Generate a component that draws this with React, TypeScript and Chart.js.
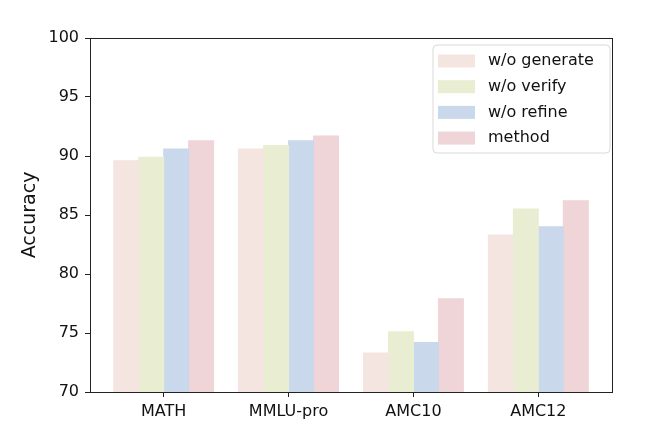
import React, { useEffect, useRef } from "react";
import { Chart, registerables } from "chart.js";

Chart.register(...registerables);

const categories = ["MATH", "MMLU-pro", "AMC10", "AMC12"];
const seriesLabels = ["w/o generate", "w/o verify", "w/o refine", "method"];
const woGenerate = [89.6, 90.6, 73.3, 83.3];
const woVerify = [89.9, 90.9, 75.1, 85.5];
const woRefine = [90.6, 91.3, 74.2, 84.0];
const methodVals = [91.3, 91.7, 77.9, 86.2];
const seriesColors = ["#f4e5e0", "#e9eed2", "#c9d8eb", "#efd4d8"];
const yTicks = [70, 75, 80, 85, 90, 95, 100];

const FONT = "'DejaVu Sans', sans-serif";

const framePlugin = {
  id: "frame",
  afterDatasetsDraw(chart: any) {
    const { ctx, chartArea } = chart;
    ctx.save();
    ctx.strokeStyle = "#222";
    ctx.lineWidth = 1;
    ctx.strokeRect(
      Math.round(chartArea.left) + 0.5,
      Math.round(chartArea.top) + 0.5,
      Math.round(chartArea.right - chartArea.left),
      Math.round(chartArea.bottom - chartArea.top)
    );
    ctx.restore();
  },
  afterDraw(chart: any) {
    const { ctx, chartArea } = chart;
    const w = 177;
    const h = 108;
    const x = chartArea.right - 2 - w;
    const y = chartArea.top + 7;
    ctx.save();
    ctx.beginPath();
    const r = 4;
    ctx.moveTo(x + r, y);
    ctx.lineTo(x + w - r, y);
    ctx.arcTo(x + w, y, x + w, y + r, r);
    ctx.lineTo(x + w, y + h - r);
    ctx.arcTo(x + w, y + h, x + w - r, y + h, r);
    ctx.lineTo(x + r, y + h);
    ctx.arcTo(x, y + h, x, y + h - r, r);
    ctx.lineTo(x, y + r);
    ctx.arcTo(x, y, x + r, y, r);
    ctx.closePath();
    ctx.fillStyle = "rgba(255,255,255,0.8)";
    ctx.fill();
    ctx.strokeStyle = "#d9d9d9";
    ctx.lineWidth = 1;
    ctx.stroke();
    ctx.font = `16px ${FONT}`;
    ctx.textBaseline = "middle";
    ctx.textAlign = "left";
    chart.data.datasets.forEach((ds: any, i: number) => {
      const cy = y + 16 + i * 25.7;
      ctx.fillStyle = ds.backgroundColor;
      ctx.fillRect(x + 5, cy - 6.5, 37, 13);
      ctx.fillStyle = "#111";
      ctx.fillText(ds.label, x + 55, cy);
    });
    ctx.restore();
  },
};

export default function App() {
  const ref = useRef<HTMLCanvasElement>(null);
  useEffect(() => {
    if (!ref.current) return;
    const allSeries = [woGenerate, woVerify, woRefine, methodVals];
    const chart = new Chart(ref.current, {
      type: "bar",
      data: {
        datasets: allSeries.map((vals, si) => ({
          label: seriesLabels[si],
          data: vals.map((v, i) => ({ x: i, y: v })),
          backgroundColor: seriesColors[si],
          borderWidth: 0,
          inflateAmount: 0.5,
          barPercentage: 1,
          categoryPercentage: 0.8,
        })),
      },
      options: {
        animation: false,
        responsive: true,
        maintainAspectRatio: false,
        layout: { padding: { left: 18, top: 38, right: 48, bottom: 0 } },
        plugins: {
          legend: { display: false },
          tooltip: { enabled: false },
        },
        scales: {
          x: {
            type: "linear",
            min: -0.59,
            max: 3.59,
            offset: false,
            afterBuildTicks: (axis: any) => {
              axis.ticks = categories.map((_, i) => ({ value: i }));
            },
            afterFit: (axis: any) => {
              axis.height = 50;
            },
            ticks: {
              callback: (v: any) => categories[v as number] ?? "",
              color: "#111",
              font: { family: FONT, size: 16 },
              padding: 5,
              maxRotation: 0,
              autoSkip: false,
            },
            grid: {
              offset: false,
              drawOnChartArea: false,
              drawTicks: true,
              tickLength: 5,
              color: "#222",
            },
            border: { display: true, color: "#222" },
          },
          y: {
            min: 70,
            max: 100,
            afterBuildTicks: (axis: any) => {
              axis.ticks = yTicks.map((v) => ({ value: v }));
            },
            afterFit: (axis: any) => {
              axis.width = 72;
            },
            ticks: {
              color: "#111",
              font: { family: FONT, size: 16 },
              padding: 6,
            },
            grid: {
              drawOnChartArea: false,
              drawTicks: true,
              tickLength: 5,
              color: "#222",
            },
            border: { display: true, color: "#222" },
            title: {
              display: true,
              text: "Accuracy",
              color: "#111",
              font: { family: FONT, size: 19 },
              padding: { top: 1, bottom: 0 },
            },
          },
        },
      },
      plugins: [framePlugin],
    });
    return () => chart.destroy();
  }, []);
  return (
    <div
      style={{
        position: "absolute",
        left: 0,
        top: 0,
        width: 660,
        height: 442,
        background: "#fff",
      }}
    >
      <canvas ref={ref} />
    </div>
  );
}
